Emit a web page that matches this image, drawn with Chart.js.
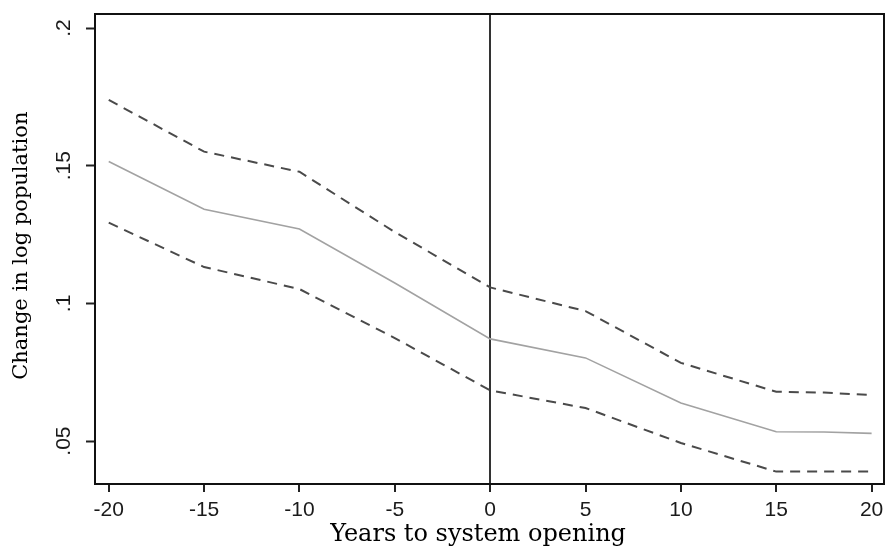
<!DOCTYPE html>
<html>
<head>
<meta charset="utf-8">
<script src="https://cdn.jsdelivr.net/npm/chart.js@4/dist/chart.umd.min.js"></script>
<style>
  html, body { margin: 0; padding: 0; background: #fff; }
  #wrap { width: 885px; height: 547px; }
</style>
</head>
<body>
<div id="wrap"><canvas id="c" width="885" height="547"></canvas></div>
<script>
// Event-study estimates: change in log population by years to system opening
const years    = [-20, -15, -10, -5, 0, 5, 10, 15, 17.5, 20];
const estimate = [0.1515, 0.1342, 0.1270, 0.1074, 0.0871, 0.0802, 0.0638, 0.0534, 0.0533, 0.0528];
const upperCI  = [0.1739, 0.1551, 0.1478, 0.1259, 0.1058, 0.0972, 0.0784, 0.0679, 0.0676, 0.0667];
const lowerCI  = [0.1293, 0.1132, 0.1052, 0.0874, 0.0684, 0.0620, 0.0493, 0.0389, 0.0389, 0.0389];
const xTicks   = [-20, -15, -10, -5, 0, 5, 10, 15, 20];
const yTicks   = [0.05, 0.10, 0.15, 0.20];
const yTickLabels = ['.05', '.1', '.15', '.2'];
const openingYear = 0;

const toPoints = vals => years.map((x, i) => ({ x: x, y: vals[i] }));

// Box around the plot region
const frame = {
  id: 'frame',
  afterDraw(chart) {
    const { ctx, chartArea: a } = chart;
    ctx.save();
    ctx.strokeStyle = '#111';
    ctx.lineWidth = 2;
    ctx.strokeRect(a.left, a.top, a.right - a.left, a.bottom - a.top);
    ctx.restore();
  }
};

new Chart(document.getElementById('c'), {
  type: 'line',
  data: {
    datasets: [
      { data: toPoints(upperCI), borderColor: '#4a4a4a', borderWidth: 2, borderDash: [10, 7], pointRadius: 0, tension: 0, fill: false },
      { data: toPoints(estimate), borderColor: '#a2a2a2', borderWidth: 1.6, pointRadius: 0, tension: 0, fill: false },
      { data: toPoints(lowerCI), borderColor: '#4a4a4a', borderWidth: 2, borderDash: [10, 7], pointRadius: 0, tension: 0, fill: false }
    ]
  },
  options: {
    responsive: false,
    animation: false,
    devicePixelRatio: 1,
    layout: { padding: { left: 0, right: 1, top: 14, bottom: 0 } },
    plugins: { legend: { display: false }, tooltip: { enabled: false } },
    scales: {
      x: {
        type: 'linear',
        min: -20.72,
        max: 20.65,
        afterBuildTicks: s => { s.ticks = xTicks.map(v => ({ value: v })); },
        afterFit: s => { s.height = 63; s.paddingLeft = 0; s.paddingRight = 0; },
        border: { display: true, color: '#111', width: 2 },
        grid: {
          drawOnChartArea: true,
          color: c => (c.tick && c.tick.value === openingYear) ? '#333' : 'rgba(0,0,0,0)',
          lineWidth: 2,
          drawTicks: true,
          tickLength: 8,
          tickColor: '#222',
          tickWidth: 2
        },
        ticks: {
          color: '#1a1a1a',
          font: { family: 'Liberation Sans, Arial, sans-serif', size: 21 },
          padding: 6,
          maxRotation: 0,
          autoSkip: false,
          callback: v => String(v)
        },
        title: {
          display: true,
          // trailing spaces set the caption slightly left of the axis centre
          text: 'Years to system opening   ',
          color: '#000',
          font: { family: 'DejaVu Serif, serif', size: 24 },
          padding: { top: 0, bottom: -2 }
        }
      },
      y: {
        type: 'linear',
        min: 0.0344,
        max: 0.2051,
        afterBuildTicks: s => { s.ticks = yTicks.map(v => ({ value: v })); },
        afterFit: s => { s.width = 95; s.paddingTop = 0; s.paddingBottom = 0; },
        border: { display: true, color: '#111', width: 2 },
        grid: {
          drawOnChartArea: false,
          drawTicks: true,
          tickLength: 9,
          tickColor: '#222',
          tickWidth: 2
        },
        ticks: {
          color: '#1a1a1a',
          font: { family: 'Liberation Sans, Arial, sans-serif', size: 21 },
          minRotation: 90,
          maxRotation: 90,
          crossAlign: 'center',
          padding: 7,
          autoSkip: false,
          callback: (v, i) => yTickLabels[i]
        },
        title: {
          display: true,
          text: ' Change in log population',
          color: '#000',
          font: { family: 'DejaVu Serif, serif', size: 21 },
          padding: { top: 9, bottom: 0 }
        }
      }
    }
  },
  plugins: [frame]
});
</script>
</body>
</html>
